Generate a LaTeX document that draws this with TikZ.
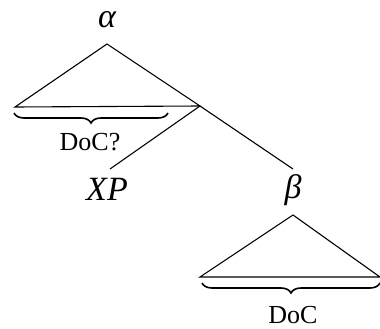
\documentclass[tikz,border=0pt]{standalone}
\usepackage{fontspec}
\setmainfont{Liberation Serif}
\usetikzlibrary{decorations.pathreplacing}
\begin{document}
\begin{tikzpicture}[x=1pt,y=-1pt,
  edge/.style={line width=1.1pt,black},
  bigl/.style={font=\fontsize{34}{36}\selectfont\itshape,inner sep=0pt},
  smalll/.style={font=\fontsize{26}{28}\selectfont,inner sep=0pt},
  brc/.style={line width=1.6pt,decorate,decoration={brace,mirror,amplitude=10pt}}]
\useasboundingbox (0,0) rectangle (380,329);
% labels
\node[bigl] (alpha) at (107,20) {α};
\node[bigl] (xp) at (107,189) {XP};
\node[bigl] (beta) at (293,190) {β};
\node[smalll] (doc1) at (90,142) {DoC?};
\node[smalll] (doc2) at (293,315) {DoC};
% top triangle
\coordinate (a1) at (107,44);
\coordinate (a2) at (15,107);
\coordinate (a3) at (200,106);
\draw[edge] (a1) -- (a2) -- (a3) -- cycle;
% branches
\coordinate (xpt) at (110,169);
\coordinate (bt) at (293,169);
\draw[edge] (a3) -- (xpt);
\draw[edge] (a3) -- (bt);
% bottom triangle
\coordinate (b1) at (293,215);
\coordinate (b2) at (200,277);
\coordinate (b3) at (380,277);
\draw[edge] (b1) -- (b2) -- (b3) -- cycle;
% braces
\draw[brc] (14,113) -- (168,113);
\draw[brc] (202,283) -- (380,283);
\end{tikzpicture}
\end{document}
